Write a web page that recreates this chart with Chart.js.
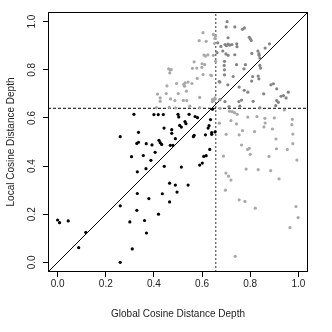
<!DOCTYPE html>
<html>
<head>
<meta charset="utf-8">
<script src="https://cdn.jsdelivr.net/npm/chart.js@4.4.0/dist/chart.umd.min.js"></script>
<style>
  html, body { margin: 0; padding: 0; background: #fff; }
  canvas { display: block; }
</style>
</head>
<body>
<canvas id="depthChart" width="332" height="332"></canvas>
<script>
// [global depth, local depth]
// below both cutoffs (black)
const blackPoints = [
  [0.0, 0.176], [0.008, 0.165], [0.044, 0.172], [0.0875, 0.061], [0.117, 0.125],
  [0.26, 0.0], [0.26, 0.235], [0.26, 0.522],
  [0.3, 0.168], [0.31, 0.056], [0.307, 0.439], [0.317, 0.615],
  [0.331, 0.286], [0.329, 0.216], [0.331, 0.376], [0.329, 0.494], [0.336, 0.54], [0.336, 0.499],
  [0.356, 0.444], [0.361, 0.174], [0.369, 0.122], [0.367, 0.389], [0.368, 0.493],
  [0.379, 0.265], [0.3875, 0.424], [0.392, 0.488], [0.4, 0.614], [0.405, 0.457],
  [0.418, 0.614], [0.419, 0.2], [0.421, 0.507], [0.426, 0.497], [0.432, 0.49], [0.439, 0.614],
  [0.435, 0.285], [0.443, 0.399], [0.442, 0.558],
  [0.465, 0.329], [0.465, 0.251], [0.468, 0.486], [0.479, 0.486], [0.474, 0.551], [0.474, 0.536],
  [0.489, 0.321], [0.496, 0.292], [0.489, 0.514],
  [0.5, 0.615], [0.503, 0.604], [0.507, 0.569], [0.514, 0.562], [0.514, 0.396],
  [0.529, 0.585], [0.533, 0.576], [0.542, 0.321], [0.546, 0.615],
  [0.567, 0.528], [0.564, 0.522], [0.571, 0.606], [0.581, 0.601],
  [0.59, 0.404], [0.601, 0.4125], [0.607, 0.44], [0.617, 0.443], [0.614, 0.53],
  [0.625, 0.558], [0.629, 0.568], [0.632, 0.469], [0.635, 0.593], [0.643, 0.636],
  [0.64, 0.539], [0.64, 0.532], [0.654, 0.542]
];

// high local depth only (light gray)
const upperLeftPoints = [
  [0.604, 0.954], [0.588, 0.921], [0.617, 0.918], [0.647, 0.947], [0.656, 0.94], [0.653, 0.93], [0.652, 0.91],
  [0.608, 0.861], [0.614, 0.857], [0.624, 0.862], [0.647, 0.86], [0.567, 0.833], [0.6, 0.825], [0.611, 0.821],
  [0.656, 0.835], [0.56, 0.806], [0.578, 0.807], [0.599, 0.81],
  [0.461, 0.804], [0.468, 0.799], [0.472, 0.801], [0.466, 0.787],
  [0.58, 0.764], [0.604, 0.78], [0.636, 0.778], [0.639, 0.776], [0.558, 0.743],
  [0.53, 0.746], [0.542, 0.749], [0.524, 0.739], [0.527, 0.732],
  [0.494, 0.743], [0.454, 0.733], [0.535, 0.711], [0.501, 0.701], [0.59, 0.685],
  [0.415, 0.699], [0.426, 0.683], [0.426, 0.669], [0.451, 0.701], [0.469, 0.679], [0.487, 0.672],
  [0.522, 0.6725], [0.536, 0.672], [0.643, 0.668], [0.65, 0.674], [0.653, 0.683], [0.643, 0.677],
  [0.41, 0.643], [0.464, 0.644], [0.49, 0.642], [0.549, 0.649], [0.59, 0.643]
];

// high global depth only (light gray)
const lowerRightPoints = [
  [0.675, 0.64], [0.714, 0.628], [0.725, 0.626], [0.735, 0.622], [0.746, 0.615],
  [0.942, 0.633], [0.672, 0.578], [0.72, 0.589], [0.743, 0.575],
  [0.79, 0.6035], [0.828, 0.6055], [0.861, 0.5985], [0.862, 0.579], [0.857, 0.5625], [0.892, 0.554],
  [0.9, 0.6], [0.975, 0.594], [0.973, 0.572],
  [0.7, 0.532], [0.754, 0.53], [0.768, 0.547], [0.818, 0.543],
  [0.907, 0.5125], [0.977, 0.533], [0.977, 0.493],
  [0.764, 0.4875], [0.789, 0.469], [0.796, 0.474], [0.8, 0.449], [0.689, 0.4415],
  [0.878, 0.44], [0.909, 0.472], [0.954, 0.469], [0.994, 0.425],
  [0.783, 0.3875], [0.833, 0.385], [0.885, 0.381], [0.92, 0.347],
  [0.699, 0.371], [0.71, 0.358], [0.72, 0.342], [0.697, 0.3],
  [0.754, 0.26], [0.778, 0.253], [0.821, 0.225],
  [0.99, 0.232], [0.999, 0.186], [0.965, 0.144], [0.7375, 0.025]
];

// above both cutoffs (darker gray)
const upperRightPoints = [
  [0.704, 1.0], [0.7, 0.978], [0.736, 0.978], [0.768, 0.968], [0.776, 0.974],
  [0.708, 0.933], [0.796, 0.935], [0.8, 0.929], [0.804, 0.922],
  [0.665, 0.912], [0.695, 0.905], [0.701, 0.9], [0.708, 0.907], [0.715, 0.902], [0.724, 0.905],
  [0.744, 0.908], [0.745, 0.896], [0.678, 0.897], [0.662, 0.871],
  [0.686, 0.878], [0.699, 0.866], [0.708, 0.86], [0.736, 0.8625], [0.807, 0.868],
  [0.832, 0.878], [0.836, 0.867], [0.837, 0.86], [0.84, 0.849], [0.862, 0.89], [0.88, 0.908],
  [0.693, 0.835], [0.692, 0.818], [0.743, 0.821], [0.78, 0.821], [0.84, 0.818], [0.843, 0.807],
  [0.693, 0.8], [0.693, 0.779], [0.729, 0.772], [0.774, 0.804], [0.833, 0.774], [0.836, 0.7625], [0.81, 0.772],
  [0.671, 0.751], [0.674, 0.749], [0.707, 0.7375], [0.754, 0.728], [0.775, 0.715], [0.806, 0.753], [0.79, 0.707],
  [0.886, 0.7375], [0.896, 0.742], [0.91, 0.721], [0.856, 0.7], [0.958, 0.707],
  [0.928, 0.69], [0.938, 0.693], [0.91, 0.672], [0.917, 0.665], [0.949, 0.683],
  [0.812, 0.669], [0.753, 0.668], [0.764, 0.674], [0.674, 0.676], [0.695, 0.668],
  [0.712, 0.647], [0.757, 0.649], [0.84, 0.642], [0.906, 0.651]
];

const globalCutoff = 0.657;
const localCutoff = 0.64;
const axisMin = -0.04;
const axisMax = 1.04;
const tickValues = [0, 0.2, 0.4, 0.6, 0.8, 1.0];
const xTitle = 'Global Cosine Distance Depth';
const yTitle = 'Local Cosine Distance Depth';

const FONT = "'Liberation Sans', Arial, sans-serif";
const toXY = pts => pts.map(p => ({ x: p[0], y: p[1] }));

function pointSet(pts, color) {
  return {
    data: toXY(pts),
    backgroundColor: color,
    pointRadius: 1.6,
    pointBorderWidth: 0,
    showLine: false
  };
}

function refLine(pts, color, dash) {
  return {
    data: toXY(pts),
    showLine: true,
    pointRadius: 0,
    borderColor: color,
    borderWidth: 1,
    borderDash: dash,
    fill: false
  };
}

// black frame around the plotting region, like R's box()
const boxPlugin = {
  id: 'plotBox',
  afterDraw(chart) {
    const { ctx, chartArea: a } = chart;
    ctx.save();
    ctx.strokeStyle = '#000';
    ctx.lineWidth = 1;
    ctx.strokeRect(a.left + 0.5, a.top + 0.5, a.right - a.left - 1, a.bottom - a.top - 1);
    ctx.restore();
  }
};

function axisOptions(title, isX) {
  return {
    type: 'linear',
    min: axisMin,
    max: axisMax,
    afterBuildTicks: scale => { scale.ticks = tickValues.map(v => ({ value: v })); },
    afterFit: scale => {
      if (isX) scale.height = 60; else scale.width = 48;
    },
    grid: { drawOnChartArea: false, drawTicks: true, tickLength: 5, color: '#000', lineWidth: 1 },
    border: { display: false },
    ticks: {
      color: '#222',
      font: { family: FONT, size: 10 },
      padding: isX ? 7 : 4,
      minRotation: isX ? 0 : 90,
      maxRotation: isX ? 0 : 90,
      crossAlign: 'center',
      callback: v => v.toFixed(1)
    },
    title: {
      display: true,
      text: title,
      color: '#222',
      font: { family: FONT, size: 10 },
      padding: isX ? { top: 0, bottom: 12 } : { top: 5, bottom: 0 }
    }
  };
}

new Chart(document.getElementById('depthChart'), {
  type: 'scatter',
  data: {
    datasets: [
      pointSet(blackPoints, '#000000'),
      pointSet(upperLeftPoints, '#a9a9a9'),
      pointSet(lowerRightPoints, '#a9a9a9'),
      pointSet(upperRightPoints, '#858585'),
      refLine([[axisMin, axisMin], [axisMax, axisMax]], '#000', []),
      refLine([[axisMin, localCutoff], [axisMax, localCutoff]], '#000', [3, 2]),
      refLine([[globalCutoff, axisMin], [globalCutoff, axisMax]], '#333', [2, 2])
    ]
  },
  options: {
    responsive: false,
    devicePixelRatio: 1,
    animation: false,
    events: [],
    layout: { padding: { top: 12, right: 24, left: 0, bottom: 0 } },
    plugins: { legend: { display: false }, tooltip: { enabled: false } },
    scales: {
      x: axisOptions(xTitle, true),
      y: axisOptions(yTitle, false)
    }
  },
  plugins: [boxPlugin]
});
</script>
</body>
</html>
